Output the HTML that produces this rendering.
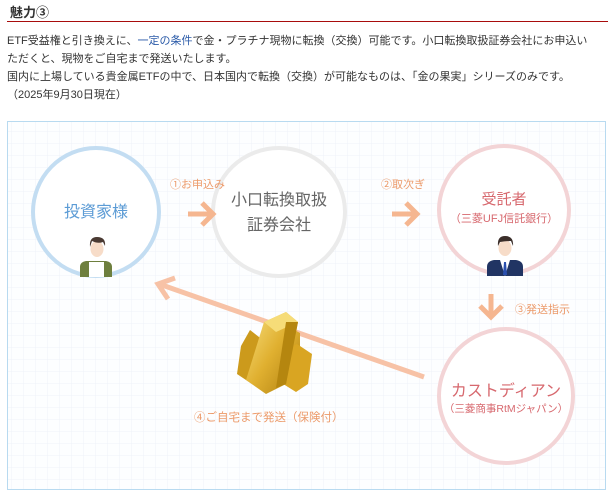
<!DOCTYPE html>
<html><head><meta charset="utf-8"><style>
body{margin:0;width:608px;height:493px;background:#fff;font-family:"Liberation Sans","Noto Sans CJK JP",sans-serif;overflow:hidden;position:relative}
.h{position:absolute;left:10px;top:2px;font-size:13px;font-weight:bold;color:#333}
.rl{position:absolute;left:7px;top:21px;width:601px;height:1px;background:#a80c0c}
.p{position:absolute;left:7px;top:32px;font-size:11px;line-height:18px;color:#333;white-space:nowrap}
.p span{color:#2a5aa8}
svg{position:absolute;left:0;top:0}
</style></head><body>
<div class="h">魅力③</div>
<div class="rl"></div>
<div class="p">ETF受益権と引き換えに、<span>一定の条件</span>で金・プラチナ現物に転換（交換）可能です。小口転換取扱証券会社にお申込い<br>ただくと、現物をご自宅まで発送いたします。<br>国内に上場している貴金属ETFの中で、日本国内で転換（交換）が可能なものは、「金の果実」シリーズのみです。<br>（2025年9月30日現在）</div>
<svg width="608" height="493" font-family="Liberation Sans, Noto Sans CJK JP, sans-serif">
<defs><pattern id="g" width="12" height="12" patternUnits="userSpaceOnUse"><path d="M12 0V12H0" fill="none" stroke="#eef2f8" stroke-width="1"/></pattern>
<linearGradient id="au" x1="0" y1="0" x2="1" y2="1"><stop offset="0" stop-color="#f8e080"/><stop offset=".5" stop-color="#e0b030"/><stop offset="1" stop-color="#b08010"/></linearGradient></defs>
<rect x="7.5" y="121.5" width="598" height="368" fill="#fdfeff" stroke="#b8daf0"/>
<rect x="8" y="122" width="597" height="367" fill="url(#g)"/>
<ellipse cx="96" cy="212" rx="63" ry="64" fill="#fff" stroke="#c3ddf2" stroke-width="4"/>
<ellipse cx="279" cy="212" rx="66" ry="64" fill="#fff" stroke="#ebebeb" stroke-width="4"/>
<ellipse cx="504" cy="210" rx="65" ry="64" fill="#fff" stroke="#f3d4d6" stroke-width="4"/>
<circle cx="506" cy="396" r="67" fill="#fff" stroke="#f3d4d6" stroke-width="4"/>
<text x="96" y="217" font-size="16" fill="#5b9bd5" text-anchor="middle">投資家様</text>
<text x="279" y="205" font-size="16" fill="#666" text-anchor="middle">小口転換取扱</text>
<text x="279" y="230" font-size="16" fill="#666" text-anchor="middle">証券会社</text>
<text x="504" y="204" font-size="15" fill="#d7686e" text-anchor="middle">受託者</text>
<text x="504" y="222" font-size="11" fill="#d7686e" text-anchor="middle">（三菱UFJ信託銀行）</text>
<text x="506" y="396" font-size="16" fill="#d7686e" text-anchor="middle">カストディアン</text>
<text x="506" y="412" font-size="10.5" fill="#d7686e" text-anchor="middle">（三菱商事RtMジャパン）</text>
<text x="170" y="188" font-size="11" fill="#ec9a6a">①お申込み</text>
<text x="381" y="188" font-size="11" fill="#ec9a6a">②取次ぎ</text>
<text x="515" y="313" font-size="11" fill="#ec9a6a">③発送指示</text>
<text x="194" y="421" font-size="11.5" fill="#ec9a6a">④ご自宅まで発送（保険付）</text>
<g stroke="#f5b690" stroke-width="5" fill="none" stroke-linecap="butt">
<path d="M188 214H212M202 203L213 214L202 225"/>
<path d="M392 214H416M406 203L417 214L406 225"/>
<path d="M491 294V316M480 306L491 317L502 306"/>
</g>
<path d="M424 377L162 285M168 299L158 284L175 278" stroke="#f7c2a6" stroke-width="5" fill="none"/>
<g><path d="M80 277v-10q0-5 6-6h20q6 1 6 6v10z" fill="#6e7f3e"/><path d="M89 262h15v15h-15z" fill="#fff"/>
<ellipse cx="97" cy="249" rx="6.5" ry="8" fill="#f7dcc8"/><path d="M90 247q-1-10 7-10q9 0 8 9l-2-4q-5 2-11-1z" fill="#4a3a33"/></g>
<g><path d="M487 276v-9q0-6 7-7h22q7 1 7 7v9z" fill="#213463"/><path d="M500 260h10l-5 16z" fill="#fff"/><path d="M504 262h2l1 13h-4z" fill="#2a4fae"/>
<ellipse cx="505" cy="248" rx="6.5" ry="8" fill="#f7dcc8"/><path d="M498 246q-1-10 7-10q9 0 8 10l-2-5q-6 0-11 1z" fill="#3b2e2a"/></g>
<g>
<path d="M268 325l10-4 22 12 0 34-10 6-22-12z" fill="url(#au)"/>
<path d="M283 350l14-6 15 10-4 30-12 8-16-10z" fill="#d9a522"/>
<path d="M250 330l18 14-5 32-8 10-18-12 4-28z" fill="#cc9a1c"/>
<path d="M264 322l22-10 12 10-12 62-20 10-20-14z" fill="url(#au)"/>
<path d="M264 322l22-10 12 10-22 10z" fill="#f6dc78"/>
<path d="M286 322l12 0-12 62-10 4z" fill="#b5860f"/>
</g>
</svg>
</body></html>
